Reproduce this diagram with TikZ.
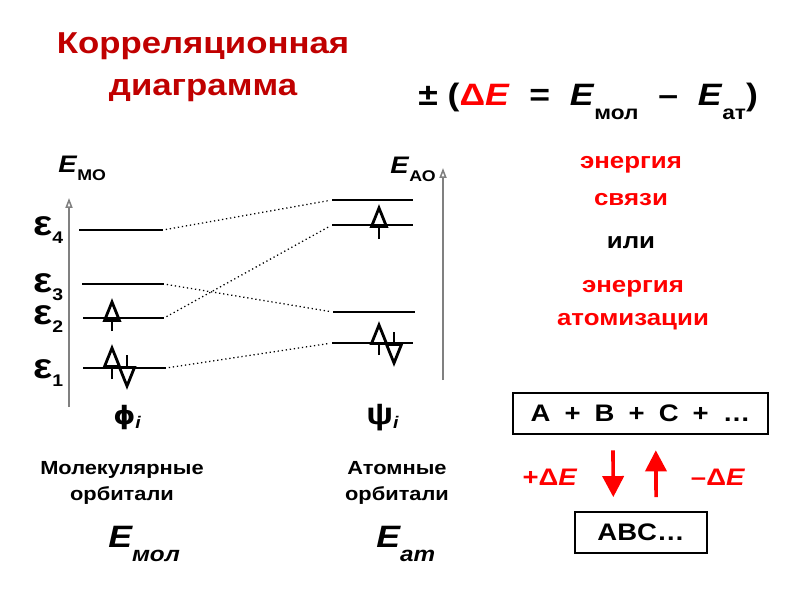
\documentclass[tikz,border=0pt]{standalone}
\usepackage{fontspec}
\setmainfont{Liberation Sans}[FakeStretch=1.15]
\newfontfamily\grk{DejaVu Sans}[FakeStretch=1.1]
\usetikzlibrary{arrows.meta}
\definecolor{darkred}{RGB}{192,0,0}
\newcommand{\fsz}[2]{\fontsize{#1}{#2}\selectfont}
\newcommand{\lowered}[3]{\raisebox{-#1}{\fsz{#2}{#2}#3}}
\begin{document}
\begin{tikzpicture}[x=0.025cm, y=-0.025cm,
    lvl/.style={line width=1.1pt},
    corr/.style={dotted, line width=0.9pt, shorten <=2pt, shorten >=2pt},
    axis/.style={draw=gray, line width=1.1pt, -{Triangle[open, length=7pt, width=5pt]}},
    spin/.style={line width=1.8pt, -{Triangle[open, length=17pt, width=13pt, line width=2pt]}},
    react/.style={red, line width=2.6pt, -{Triangle[length=15pt, width=15pt]}},
    lbl/.style={inner sep=0pt, font=\bfseries},
    eqbox/.style={draw, line width=1.3pt, inner sep=0pt, minimum height=29pt, font=\bfseries\fsz{17}{20}}]
  \useasboundingbox (0,0) rectangle (800,600);

  % title and formula
  \node[lbl, text=darkred, align=center, anchor=base, font=\bfseries\fsz{21.5}{29.8}] (title) at (203,95) {Корреляционная\\диаграмма};
  \node[lbl, anchor=base west, font=\bfseries\fsz{22}{25}] (formula) at (418,105)
    {± (\textcolor{red}{Δ\textit{E}}\hspace{14pt}=\hspace{14pt}\textit{E}\lowered{10.5pt}{14}{мол}\hspace{14pt}–\hspace{14pt}\textit{E}\lowered{10.5pt}{14}{ат})};

  % axes
  \draw[axis] (69,407) -- (69,198);
  \draw[axis] (443,380) -- (443,168);
  \node[lbl, anchor=base west, font=\bfseries\fsz{17}{20}] (emo) at (58,172) {\textit{E}\lowered{6pt}{11}{МО}};
  \node[lbl, anchor=base west, font=\bfseries\fsz{17}{20}] (eao) at (390,173) {\textit{E}\lowered{6pt}{11}{АО}};

  % levels
  \foreach \nm/\xa/\xb/\yy in {m4/79/163/230, m3/82/164/284, m2/83/164/318, m1/83/166/368,
                               a4/332/413/200, a3/332/413/225, a2/333/415/312, a1/332/413/343}{
    \coordinate (\nm l) at (\xa,\yy);
    \coordinate (\nm r) at (\xb,\yy);
    \draw[lvl] (\nm l) -- (\nm r);
  }
  \draw[corr] (m4r) -- (a4l);
  \draw[corr] (m3r) -- (a2l);
  \draw[corr] (m2r) -- (a3l);
  \draw[corr] (m1r) -- (a1l);

  % electrons
  \draw[spin] (112,331) -- (112,298);
  \draw[spin] (112,379) -- (112,344);
  \draw[spin] (127,355) -- (127,390);
  \draw[spin] (379,239) -- (379,204);
  \draw[spin] (379,355) -- (379,321);
  \draw[spin] (394,332) -- (394,367);

  \node[lbl, anchor=base west, font=\bfseries\fsz{25}{25}] (eps4) at (33,235) {ε\lowered{6pt}{12}{4}};
  \node[lbl, anchor=base west, font=\bfseries\fsz{25}{25}] (eps3) at (33,292) {ε\lowered{6pt}{12}{3}};
  \node[lbl, anchor=base west, font=\bfseries\fsz{25}{25}] (eps2) at (33,324) {ε\lowered{6pt}{12}{2}};
  \node[lbl, anchor=base west, font=\bfseries\fsz{25}{25}] (eps1) at (33,378) {ε\lowered{6pt}{12}{1}};

  \node[lbl, anchor=base west, font=\bfseries\fsz{18}{20}] (phi) at (113,424) {{\grk ϕ}\lowered{3pt}{12}{\textit{i}}};
  \node[lbl, anchor=base west, font=\bfseries\fsz{22}{22}] (psi) at (366,424) {ψ\lowered{3pt}{12}{\textit{i}}};

  % captions
  \node[lbl, align=center, anchor=base, font=\bfseries\fsz{13.5}{18.4}] (molorb) at (122,500) {Молекулярные\\орбитали};
  \node[lbl, align=center, anchor=base, font=\bfseries\fsz{13.5}{18.4}] (atorb) at (397,500) {Атомные\\орбитали};
  \node[lbl, anchor=base west, font=\bfseries\itshape\fsz{22}{22}] (emol) at (108,547) {E\lowered{10.5pt}{15}{мол}};
  \node[lbl, anchor=base west, font=\bfseries\itshape\fsz{22}{22}] (eat) at (376,547) {E\lowered{10.5pt}{15}{ат}};

  % right column
  \node[lbl, align=center, anchor=base, text=red, font=\bfseries\fsz{16}{26.2}] (bond) at (631,205) {энергия\\связи};
  \node[lbl, anchor=base, font=\bfseries\fsz{16}{20}] (orword) at (631,248) {или};
  \node[lbl, align=center, anchor=base, text=red, font=\bfseries\fsz{16}{23.4}] (atomiz) at (633,325) {энергия\\атомизации};

  % reaction
  \node[eqbox, minimum width=180.8pt] (atoms) at (640.5,413.5) {A\hspace{10pt}+\hspace{10pt}B\hspace{10pt}+\hspace{10pt}C\hspace{10pt}+\hspace{10pt}…};
  \node[eqbox, minimum width=93.6pt] (mol) at (641,532.5) {ABC…};
  \draw[react, shorten <=11pt, shorten >=10pt] ([xshift=-0.69cm]atoms.south) -- ([xshift=-0.69cm]mol.north);
  \draw[react, shorten <=10pt, shorten >=11pt] ([xshift=0.38cm]mol.north) -- ([xshift=0.38cm]atoms.south);
  \node[lbl, text=red, font=\bfseries\fsz{17}{20}] (plusde) at (550,477) {+Δ\textit{E}};
  \node[lbl, text=red, font=\bfseries\fsz{17}{20}] (minusde) at (718,477) {–Δ\textit{E}};
\end{tikzpicture}
\end{document}
